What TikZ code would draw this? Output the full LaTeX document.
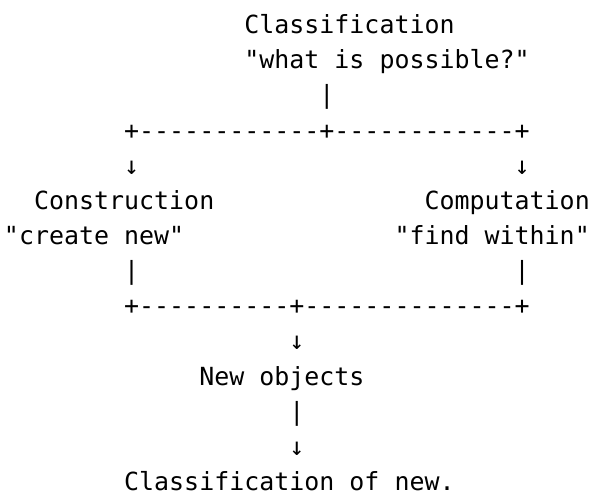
\documentclass[tikz,border=0pt]{standalone}
\usepackage{fontspec}
\setmonofont{DejaVu Sans Mono}
\begin{document}
\begin{tikzpicture}[x=15.02pt,y=35.15pt,
  txt/.style={anchor=base west, inner sep=0pt, outer sep=0pt,
    font=\ttfamily\fontsize{24.95}{35.15}\selectfont, text=black}]
\useasboundingbox (-4pt,0pt) rectangle (585pt,-493pt);
% line 1-3
\node[txt] (title)  at (16,-0.956)  {Classification};
\node[txt] (titleq) at (16,-1.956)  {"what is possible?"};
\node[txt] (bar1)   at (21,-2.956)  {|};
% line 4: split
\node[txt] (split)  at (8,-3.956)   {+------------+------------+};
% line 5: arrows
\node[txt] (arrL)   at (8,-4.956)   {↓};
\node[txt] (arrR)   at (34,-4.956)  {↓};
% line 6-7: branches
\node[txt] (cons)   at (2,-5.956)   {Construction};
\node[txt] (comp)   at (28,-5.956)  {Computation};
\node[txt] (consq)  at (0,-6.956)   {"create new"};
\node[txt] (compq)  at (26,-6.956)  {"find within"};
% line 8: bars
\node[txt] (barL)   at (8,-7.956)   {|};
\node[txt] (barR)   at (34,-7.956)  {|};
% line 9: merge
\node[txt] (merge)  at (8,-8.956)   {+----------+--------------+};
% line 10-14
\node[txt] (arrM)   at (19,-9.956)  {↓};
\node[txt] (newobj) at (13,-10.956) {New objects};
\node[txt] (bar2)   at (19,-11.956) {|};
\node[txt] (arr2)   at (19,-12.956) {↓};
\node[txt] (final)  at (8,-13.956)  {Classification of new.};
\end{tikzpicture}
\end{document}
